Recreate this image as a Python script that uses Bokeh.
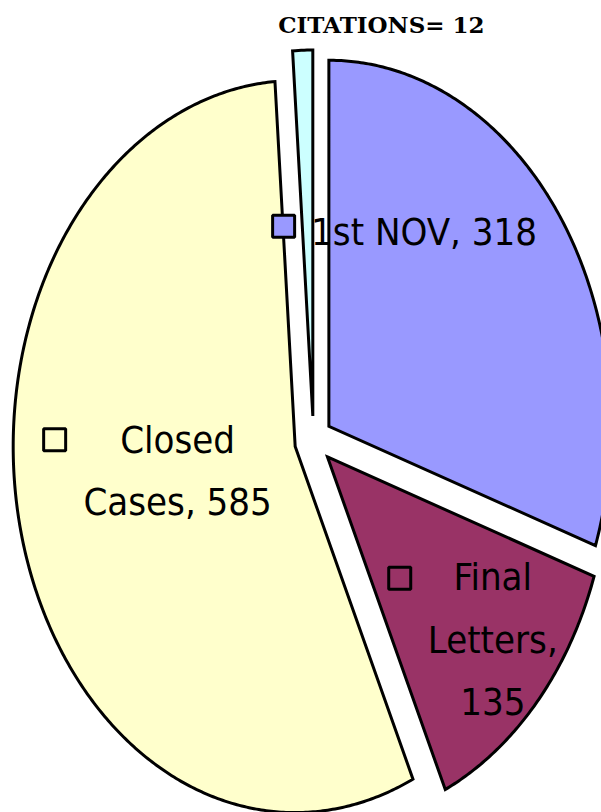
import numpy as np
from bokeh.plotting import figure
from bokeh.models import Range1d, ColumnDataSource
from bokeh.core.properties import value
from bokeh.embed import file_html
from bokeh.resources import INLINE

# ---- data ----
categories = ["1st NOV", "Final Letters", "Closed Cases", "CITATIONS"]
values = [318, 135, 585, 12]
label_names = ["1st NOV", "Final\nLetters", "Closed\nCases", "CITATIONS"]
label_seps = [", ", ",\n", ", ", "= "]

# ---- style ----
colors = ["#9999FF", "#993366", "#FFFFCC", "#CCFFFF"]
explode = 0.067
label_r = [0.692, 0.837, 0.489, 1.163]
label_dang = [-20.0, -1.6, 4.6, 14.0]
key_dx = [-0.498, -0.330, -0.436]
key_dy = [0.015, 0.168, 0.085]
label_font = "DejaVu Sans Condensed, Liberation Sans Narrow, Liberation Sans"

vals = np.array(values, dtype=float)
frac = vals / vals.sum()
ends = np.cumsum(frac) * 2 * np.pi
starts = ends - frac * 2 * np.pi
mids = (starts + ends) / 2

ox = explode * np.sin(mids)
oy = explode * np.cos(mids)

xs, ys = [], []
for i in range(len(vals)):
    t = np.linspace(starts[i], ends[i], max(6, int(frac[i] * 720)))
    xs.append(list(np.concatenate([[ox[i]], ox[i] + np.sin(t), [ox[i]]])))
    ys.append(list(np.concatenate([[oy[i]], oy[i] + np.cos(t), [oy[i]]])))

p = figure(width=601, height=812, output_backend="svg", toolbar_location=None,
           x_range=Range1d(-1.1099, 1.0213), y_range=Range1d(-1.0164, 1.2022),
           min_border=0, outline_line_color=None, background_fill_color="white",
           border_fill_color="white")
p.xaxis.visible = False
p.yaxis.visible = False
p.grid.visible = False

p.patches(xs=xs, ys=ys, fill_color=colors, line_color="black", line_width=3,
          line_join="miter")

la = mids + np.radians(label_dang)
lx = np.array(label_r) * np.sin(la)
ly = np.array(label_r) * np.cos(la)

texts = [f"{label_names[i]}{label_seps[i]}{values[i]}" for i in range(3)]
src = ColumnDataSource(dict(x=lx[:3], y=ly[:3], t=texts))
p.text(x="x", y="y", text="t", source=src, text_align="center",
       text_baseline="middle", text_font=value(label_font),
       text_font_size="38px", text_color="black", text_line_height=1.42)

kx = lx[:3] + np.array(key_dx)
ky = ly[:3] + np.array(key_dy)
p.scatter(x=kx, y=ky, marker="square", size=22, fill_color=colors[:3],
          line_color="black", line_width=3)

p.text(x=[lx[3]], y=[ly[3]], text=[f"{label_names[3]}{label_seps[3]}{values[3]}"],
       text_align="center", text_baseline="middle",
       text_font=value("DejaVu Serif"), text_font_style="bold",
       text_font_size="23px", text_color="black")

open("out.html", "w").write(file_html(p, INLINE))
